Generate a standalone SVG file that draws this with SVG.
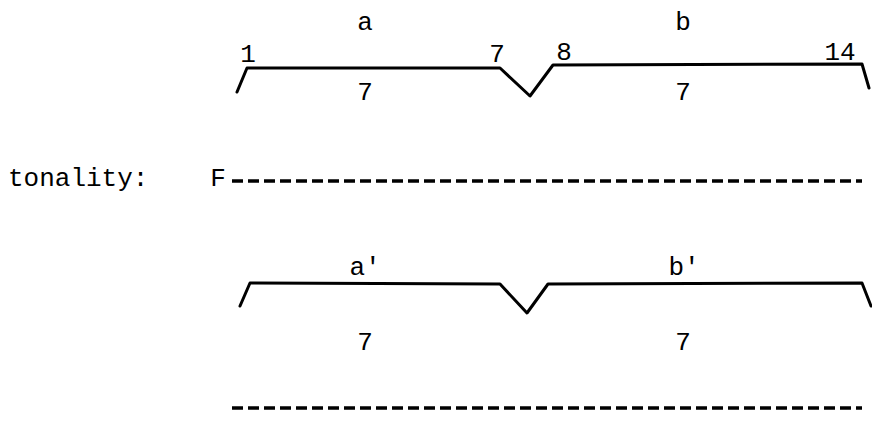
<svg xmlns="http://www.w3.org/2000/svg" width="872" height="425" viewBox="0 0 872 425">
<style>
text{font-family:"Liberation Mono","DejaVu Sans Mono",monospace;font-size:26px;fill:#000;text-anchor:middle}
.br{fill:none;stroke:#000;stroke-width:3;stroke-linejoin:round;stroke-linecap:round}
.dash{stroke:#000;stroke-width:3.5;stroke-dasharray:11 5}
</style>
<rect width="872" height="425" fill="#fff"/>
<g id="top-phrase">
<path class="br" d="M237,92 L247,68 L500,68 L530,96 L553,65 L862,64 L869,88"/>
<text x="365" y="30">a</text>
<text x="683" y="30">b</text>
<text x="248" y="62">1</text>
<text x="497" y="62">7</text>
<text x="564" y="60">8</text>
<text x="840" y="60">14</text>
<text x="365" y="100">7</text>
<text x="683" y="100">7</text>
</g>
<g id="tonality">
<text x="8" y="186" style="text-anchor:start">tonality:</text>
<text x="218" y="186">F</text>
<line class="dash" x1="232" y1="181" x2="862" y2="181"/>
</g>
<g id="bottom-phrase">
<path class="br" d="M240,306 L250,283 L500,284 L527,313 L548,284 L862,283 L871,306"/>
<text x="365" y="275">a'</text>
<text x="684" y="275">b'</text>
<text x="365" y="350">7</text>
<text x="683" y="350">7</text>
</g>
<g id="connectors">
<line class="dash" x1="232" y1="408" x2="862" y2="408"/>
</g>
</svg>
